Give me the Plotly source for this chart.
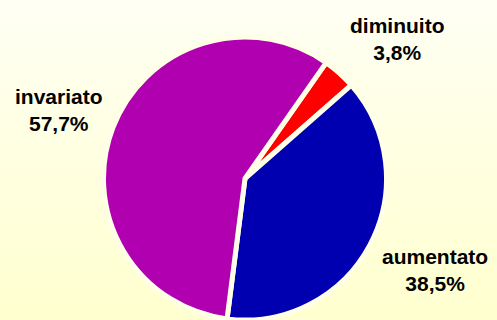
import base64
import plotly.graph_objects as go

# ---- data ----
labels = ["diminuito", "aumentato", "invariato"]
values = [3.8, 38.5, 57.7]
colors = ["#FF0000", "#0000B0", "#B000B0"]

# label positions (paper px centers) for the category annotations
label_px = {"diminuito": (397, 39), "aumentato": (435, 270), "invariato": (59, 110)}

W, H = 497, 320

bg_svg = (
    f'<svg xmlns="http://www.w3.org/2000/svg" width="{W}" height="{H}" preserveAspectRatio="none">'
    '<defs><linearGradient id="g" x1="0" y1="0" x2="0" y2="1">'
    '<stop offset="0" stop-color="#FFFFF4"/><stop offset="1" stop-color="#FFFFCF"/>'
    '</linearGradient></defs><rect width="100%" height="100%" fill="url(#g)"/></svg>'
)
bg_uri = "data:image/svg+xml;base64," + base64.b64encode(bg_svg.encode()).decode()

cx, r = 245, 141.5
fig = go.Figure(
    go.Pie(
        labels=labels,
        values=values,
        sort=False,
        direction="clockwise",
        rotation=35,
        textinfo="none",
        hoverinfo="label+percent",
        marker=dict(colors=colors, line=dict(color="#FFFFE8", width=5)),
        domain=dict(x=[(cx - r) / W, (cx + r) / W], y=[0, (2 * r) / H]),
    )
)

annotations = []
for lab, val in zip(labels, values):
    px, py = label_px[lab]
    txt = f"<b>{lab}</b><br><b>{val:.1f}%</b>".replace(".", ",")
    annotations.append(
        dict(
            text=txt, x=px / W, y=1 - py / H, xref="paper", yref="paper",
            xanchor="center", yanchor="middle", showarrow=False, align="center",
            font=dict(family="Liberation Sans, Arial, sans-serif", size=21, color="#000000"),
        )
    )

fig.update_layout(
    width=W, height=H,
    margin=dict(l=0, r=0, t=0, b=0),
    paper_bgcolor="#FFFFE6",
    plot_bgcolor="rgba(0,0,0,0)",
    showlegend=False,
    annotations=annotations,
    images=[dict(source=bg_uri, xref="paper", yref="paper", x=0, y=1, sizex=1, sizey=1,
                 sizing="stretch", xanchor="left", yanchor="top", layer="below")],
)

fig.write_html("out.html")
